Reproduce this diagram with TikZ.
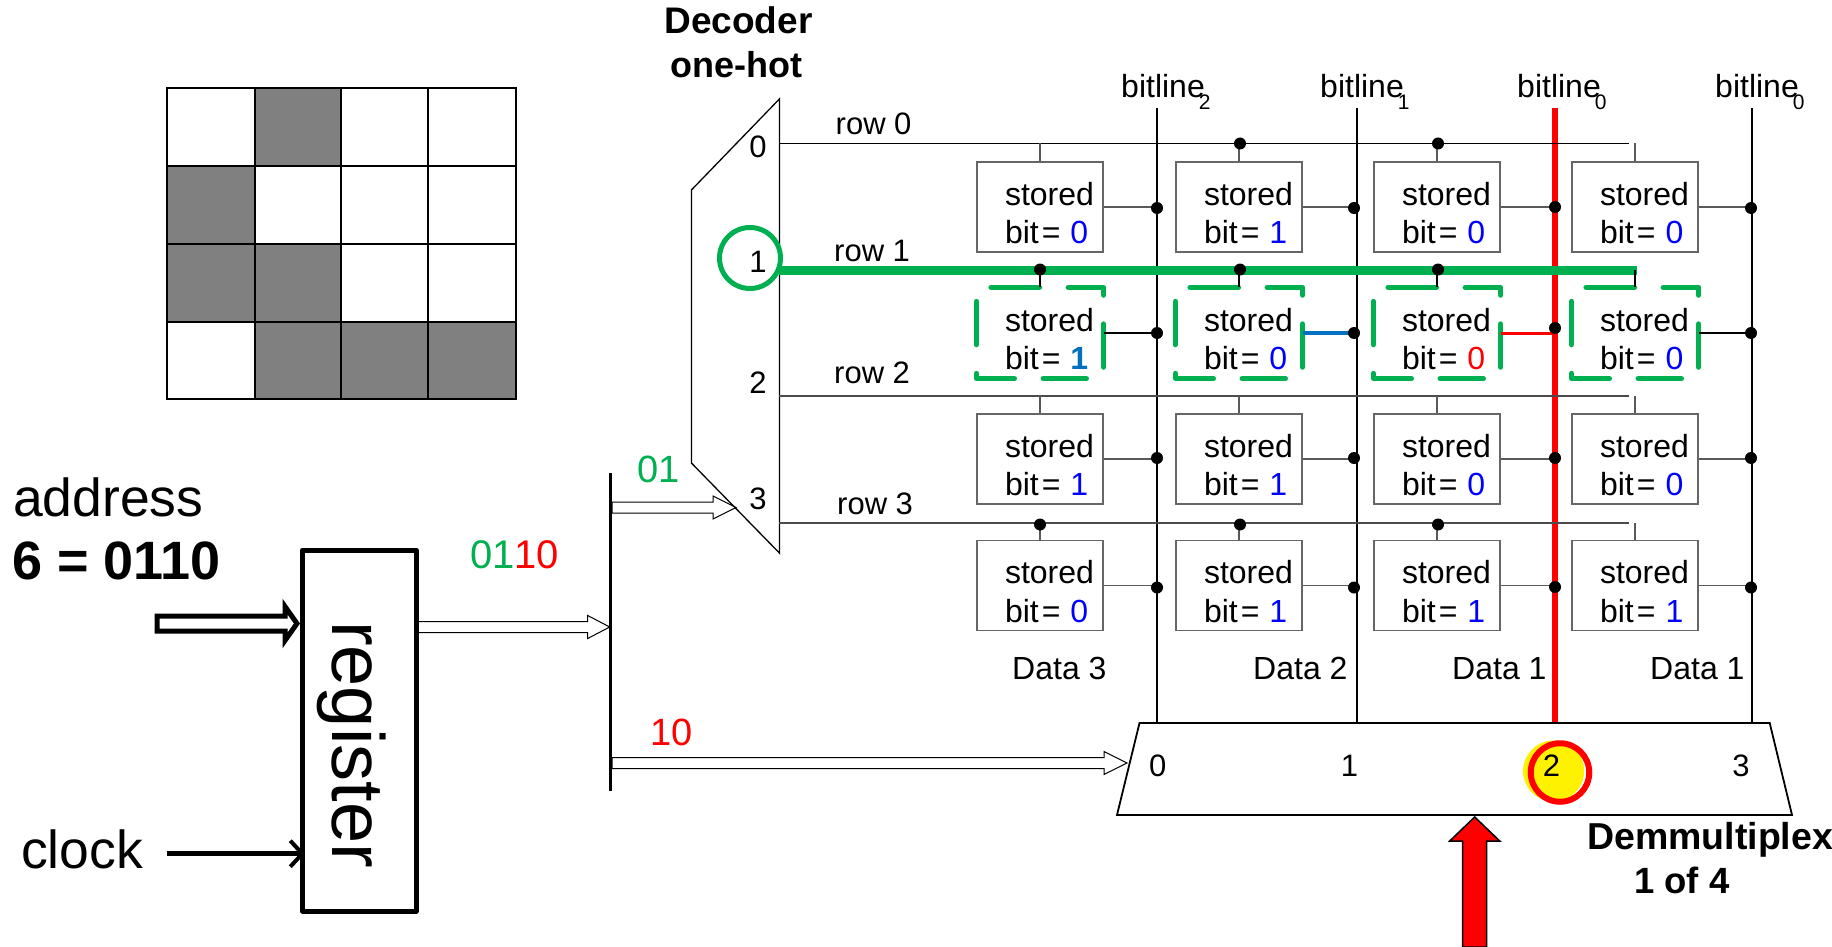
\documentclass[tikz,border=0pt]{standalone}
\usepackage{fontspec}
\setmainfont{Liberation Sans}
\usetikzlibrary{arrows.meta,calc}
\definecolor{ggreen}{HTML}{00B050}
\definecolor{bblue}{HTML}{0000FF}
\definecolor{sblue}{HTML}{0070C0}
\definecolor{rred}{HTML}{FF0000}
\definecolor{cellgray}{HTML}{808080}
\tikzset{
  txt/.style={inner sep=0pt,anchor=base west},
  ctxt/.style={inner sep=0pt,anchor=base},
  fa/.style={font=\fontsize{31}{37}\selectfont},
  fd/.style={font=\fontsize{32}{37}\selectfont},
  fb/.style={font=\fontsize{53.5}{60}\selectfont},
  fc/.style={font=\fontsize{38}{44}\selectfont},
  fh/.style={font=\fontsize{36}{44}\bfseries\selectfont},
  cellbox/.style={inner xsep=0pt,inner ysep=0pt,text width=126pt,minimum height=90pt,align=left,
    font=\fontsize{32}{38.5}\selectfont,draw=black!60,line width=1.3pt},
  cellplain/.style={cellbox,draw=none},
  hotdash/.style={draw=ggreen,line width=5.5pt,line cap=round,line join=round,dash pattern=on 43pt off 29pt},
  dotn/.style={circle,fill=black,draw=none,inner sep=0pt,minimum size=12pt},
  wordline/.style={draw=black!70,line width=1.4pt},
  stub/.style={draw=black!65,line width=1.3pt},
  bitl/.style={draw=black,line width=2pt},
  hollow/.style={draw=black,fill=white,line width=1pt,line join=miter},
}
\newcommand{\hollowarrow}[6]{%
  \draw[#1] let \p1=(#2),\p2=(#3) in
    (\x1,\y1+#4pt) -- (\x2-#5pt,\y2+#4pt) -- (\x2-#5pt,\y2+#6pt) -- (\x2,\y2)
    -- (\x2-#5pt,\y2-#6pt) -- (\x2-#5pt,\y2-#4pt) -- (\x1,\y1-#4pt) -- cycle;}
\newcommand{\cellnode}[5][cellbox]{%
  \node[#1] (#2) at (#3) {\hspace*{28pt}\rule{0pt}{35pt}stored\\\hspace*{28pt}bit\kern3pt=\kern10pt\textcolor{#5}{#4}};}
\begin{document}
\begin{tikzpicture}[x=1pt,y=-1pt]
\useasboundingbox (0,0) rectangle (1832,947);
% pixel pattern
\fill[cellgray] (255,88) rectangle (341,166);
\fill[cellgray] (167,166) rectangle (255,244);
\fill[cellgray] (167,244) rectangle (341,322);
\fill[cellgray] (255,322) rectangle (516,399);
\draw[line width=2.5pt] (167,88) rectangle (516,399);
\foreach \gx in {255,341,428} \draw[line width=2.5pt] (\gx,88) -- (\gx,399);
\foreach \gy in {166,244,322} \draw[line width=2.5pt] (167,\gy) -- (516,\gy);
% left texts
\node[txt,fb] (addr) at (13,516) {address};
\node[txt,font=\fontsize{54}{60}\bfseries\selectfont] (addrval) at (12,579) {6 = 0110};
\node[txt,fb] (clk) at (21,868) {clock};
% register
\node[draw=black,line width=5pt,line join=round,rotate=-90,minimum width=361pt,minimum height=113.5pt,inner sep=0pt,
  font=\fontsize{74}{80}\selectfont] (reg) at (359.25,730.5) {\hspace*{28pt}\raisebox{-27pt}[0pt][0pt]{register}};
% address + clock inputs
\coordinate (addrS) at (157,623.5);
\coordinate (addrE) at (297,623.5);
\hollowarrow{draw=black,fill=white,line width=5pt,miter limit=10}{addrS}{addrE}{7.5}{12}{17}
\coordinate (clkS) at (167,853.7);
\coordinate (clkE) at (305,853.7);
\draw[line width=5pt,-{Straight Barb[length=12pt,width=26pt,line width=4pt]}] (clkS) -- (clkE);
% bus
\coordinate (busT) at (610.7,473);
\coordinate (busB) at (610.7,791);
\draw[line width=3pt] (busT) -- (busB);
\coordinate (regO) at (418.4,627);
\coordinate (busI) at (609.7,627);
\hollowarrow{hollow}{regO}{busI}{5.5}{22}{11.5}
\node[txt,font=\fontsize{40}{44}\selectfont] (vAddr) at (470,568.7) {\textcolor{ggreen}{01}\textcolor{rred}{10}};
\coordinate (busA) at (612,507.5);
\coordinate (decI) at (736,507.5);
\hollowarrow{hollow}{busA}{decI}{5.5}{23}{11.5}
\node[txt,fc,text=ggreen] (vHi) at (637,482.7) {01};
\coordinate (busC) at (612,763);
\coordinate (muxI) at (1127,763);
\hollowarrow{hollow}{busC}{muxI}{5.5}{23}{11.5}
\node[txt,fc,text=rred] (vLo) at (650,745.7) {10};
% decoder
\coordinate (decA) at (779.4,99);
\coordinate (decB) at (691.4,190);
\coordinate (decC) at (691.4,463);
\coordinate (decD) at (779.4,553);
\draw[line width=1.3pt,line join=miter] (decA) -- (decB) -- (decC) -- (decD) -- cycle;
\node[ctxt,font=\fontsize{37}{44}\bfseries\selectfont] (decT1) at (738.5,34) {Decoder};
\node[ctxt,fh] (decT2) at (736.5,78) {one-hot};
\node[ctxt,fa] (n0) at (758,158) {0};
\node[ctxt,fa] (n1) at (758,272) {1};
\node[ctxt,fa] (n2) at (758,393) {2};
\node[ctxt,fa] (n3) at (758,509) {3};
\node[draw=ggreen,line width=5pt,inner sep=0pt,circle,minimum size=61pt] (hotrow) at (750,258) {};
% bit lines
\foreach \bn/\bx in {a/1157,b/1357,d/1752} \draw[bitl] (\bx,108) coordinate (bt\bn) -- (\bx,723) coordinate (bb\bn);
\draw[draw=rred,line width=6pt] (1555,108) coordinate (btc) -- (1555,723) coordinate (bbc);
\foreach \bx/\bs/\bn in {1121/2/la,1320/1/lb,1517/0/lc,1715/0/ld}
  \node[txt,fd] (\bn) at (\bx,98) {bitline\kern-6pt\raisebox{-12pt}{\fontsize{21}{24}\selectfont\bs}};
% cells
\cellnode{c00}{1040,207}{0}{bblue}
\cellnode{c01}{1239,207}{1}{bblue}
\cellnode{c02}{1437,207}{0}{bblue}
\cellnode{c03}{1635,207}{0}{bblue}
\cellnode[cellplain]{c10}{1040,333}{\bfseries 1}{sblue}
\cellnode[cellplain]{c11}{1239,333}{0}{bblue}
\cellnode[cellplain]{c12}{1437,333}{0}{rred}
\cellnode[cellplain]{c13}{1635,333}{0}{bblue}
\cellnode{c20}{1040,459}{1}{bblue}
\cellnode{c21}{1239,459}{1}{bblue}
\cellnode{c22}{1437,459}{0}{bblue}
\cellnode{c23}{1635,459}{0}{bblue}
\cellnode{c30}{1040,585.5}{0}{bblue}
\cellnode{c31}{1239,585.5}{1}{bblue}
\cellnode{c32}{1437,585.5}{1}{bblue}
\cellnode{c33}{1635,585.5}{1}{bblue}
% selected row dashes
\foreach \C in {0,1,2,3}
  \draw[hotdash] ($(c1\C.north west)+(20pt,0)$) -- (c1\C.north east) -- (c1\C.south east) -- (c1\C.south west) -- (c1\C.north west) -- cycle;
% row lines
\coordinate (r0) at (779.4,143.5); \coordinate (r0e) at (1629,143.5);
\coordinate (r1) at (779.4,270);   \coordinate (r1e) at (1637,270);
\coordinate (r2) at (779.4,396); \coordinate (r2e) at (1629,396);
\coordinate (r3) at (779.4,523); \coordinate (r3e) at (1629,523);
\draw[draw=black,line width=1.2pt] (r0) -- (r0e);
\draw[wordline] (r2) -- (r2e);
\draw[wordline] (r3) -- (r3e);
\draw[draw=ggreen,line width=9pt] (r1) -- (r1e);
\node[txt,fa] (l0) at (835.5,135) {row 0};
\node[txt,fa] (l1) at (834,261) {row 1};
\node[txt,fa] (l2) at (834,383) {row 2};
\node[txt,fa] (l3) at (837,514) {row 3};
% stubs to row lines and dots
\foreach \C in {0,1,2,3}{
  \draw[stub] (c0\C.north) -- (c0\C.north |- r0);
  \draw[draw=black,line width=1.2pt] (c1\C.north) -- (c1\C.north |- r1);
  \draw[stub] (c2\C.north) -- (c2\C.north |- r2);
  \draw[stub] (c3\C.north) -- (c3\C.north |- r3);
}
\foreach \C/\X in {1/1240,2/1438}{\node[dotn] (rd0\C) at (\X,143.5) {};}
\foreach \C/\X in {0/1040,1/1240,2/1438}{
  \node[dotn] (rd1\C) at (\X,269.5) {};
  \node[dotn] (rd3\C) at (\X,524.5) {};}
% cell outputs to bit lines
\foreach \C/\B in {0/a,1/b,2/c,3/d}{
  \draw[stub] (c0\C.east) -- (c0\C.east -| bt\B);
  \draw[stub] (c2\C.east) -- (c2\C.east -| bt\B);
  \draw[stub] (c3\C.east) -- (c3\C.east -| bt\B);
}
\draw[draw=black,line width=1.8pt] (c10.east) -- (c10.east -| bta);
\draw[draw=sblue,line width=3.5pt] (c11.east) -- (c11.east -| btb);
\draw[draw=rred,line width=3pt] (c12.east) -- (c12.east -| btc);
\draw[draw=black,line width=1.5pt] (c13.east) -- (c13.east -| btd);
\foreach \R/\Y in {0/208,1/333,2/458,3/587.5}{
  \node[dotn] (bd\R0) at (1157,\Y) {};
  \node[dotn] (bd\R1) at (1354,\Y) {};
  \node[dotn] (bd\R3) at (1751,\Y) {};}
\node[dotn] (bd02) at (1555,207) {};
\node[dotn] (bd12) at (1555,328) {};
\node[dotn] (bd22) at (1555,458) {};
\node[dotn] (bd32) at (1555,587) {};
\node[txt,fd] (D3) at (1012,679) {Data 3};
\node[txt,fd] (D2) at (1253,679) {Data 2};
\node[txt,fd] (D1) at (1452,679) {Data 1};
\node[txt,fd] (D0) at (1650,679) {Data 1};
% demultiplexer
\coordinate (mA) at (1139.5,723);
\coordinate (mB) at (1769.7,723);
\coordinate (mC) at (1792,815);
\coordinate (mD) at (1117,815);
\draw[line width=1.8pt,line join=miter] (mA) -- (mB) -- (mC) -- (mD) -- cycle;
\node[fill=yellow,inner sep=0pt,circle,minimum size=61pt] (ysel) at (1553.6,771) {};
\node[draw=rred,line width=6pt,circle,inner sep=0pt,minimum size=58.5pt] (rsel) at (1560,772.5) {};
\node[ctxt,fa] (m0) at (1157.7,776) {0};
\node[ctxt,fa] (m1) at (1349.5,776) {1};
\node[ctxt,fa] (m2) at (1551.5,776) {2};
\node[ctxt,fa] (m3) at (1741,776) {3};
\node[txt,font=\fontsize{37.5}{44}\bfseries\selectfont] (dem1) at (1587,849) {Demmultiplex};
\node[txt,font=\fontsize{36.5}{44}\bfseries\selectfont] (dem2) at (1634,893) {1 of 4};
% select arrow
\coordinate (selE) at (1474.7,817);
\draw[fill=rred,draw=black,line width=1.5pt,line join=miter]
  let \p1=(selE) in (\x1,\y1) -- (\x1+25pt,\y1-24pt) -- (\x1+12pt,\y1-24pt) -- (\x1+12pt,-947pt)
  -- (\x1-12pt,-947pt) -- (\x1-12pt,\y1-24pt) -- (\x1-25pt,\y1-24pt) -- cycle;
\end{tikzpicture}
\end{document}
